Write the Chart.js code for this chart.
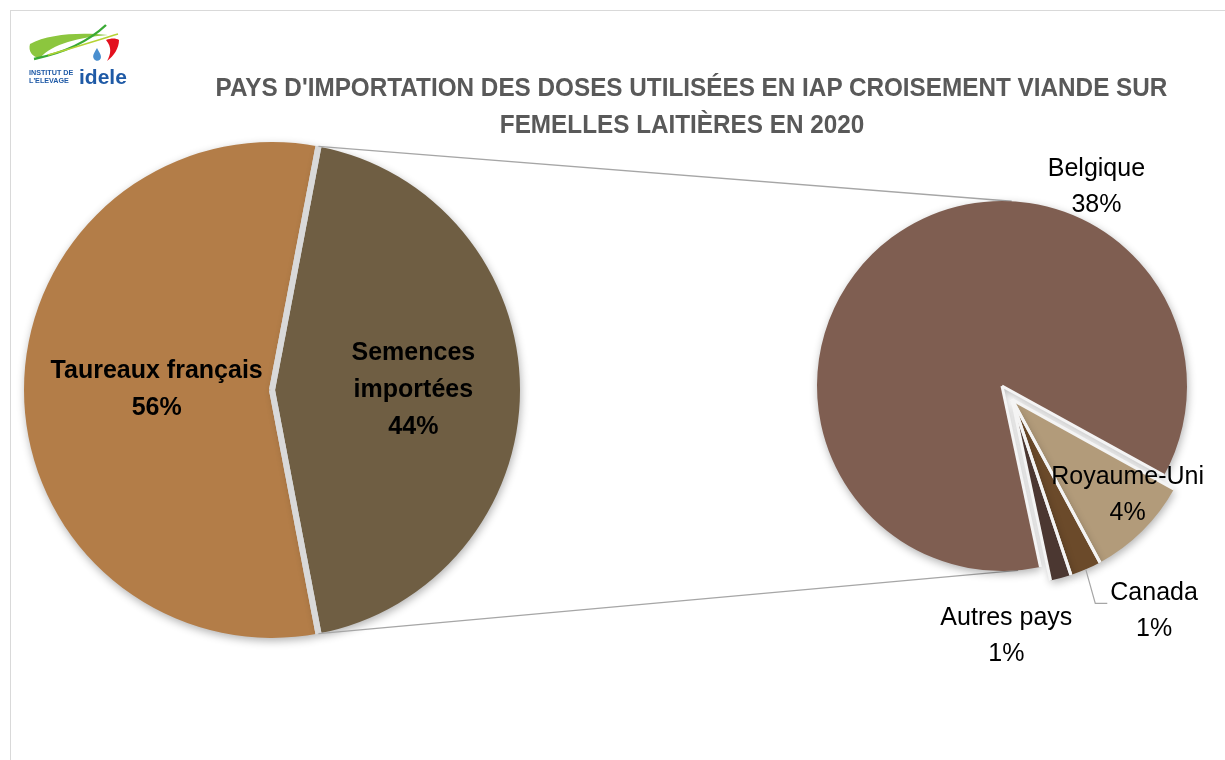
<!DOCTYPE html>
<html lang="fr">
<head>
<meta charset="utf-8">
<title>Pays d'importation des doses</title>
<script src="https://cdn.jsdelivr.net/npm/chart.js@4.4.1/dist/chart.umd.min.js"></script>
<style>
  body { margin:0; width:1225px; height:760px; overflow:hidden; position:relative; background:#fff;
         font-family:"Liberation Sans", Arial, sans-serif; }
  #frame { position:absolute; left:10px; top:10px; width:1300px; height:800px; border:1.5px solid #d9d9d9; }
  canvas { position:absolute; left:0; top:0; }
  #title { position:absolute; left:182px; top:69px; width:1000px; text-align:center;
           font-weight:bold; font-size:26px; line-height:37px; color:#595959; }
  #title span { display:inline-block; white-space:nowrap; transform-origin:center; }
  #logo { position:absolute; left:18px; top:22px; }
</style>
</head>
<body>
<div id="frame"></div>
<canvas id="grand" width="1225" height="760"></canvas>
<canvas id="detail" width="1225" height="760"></canvas>
<div id="title">
  <div><span>PAYS D'IMPORTATION DES DOSES UTILISÉES EN IAP CROISEMENT VIANDE SUR</span></div>
  <div><span>FEMELLES LAITIÈRES EN 2020</span></div>
</div>
<svg id="logo" width="116" height="72" viewBox="0 0 116 72">
  <path d="M12,22 C30,12 62,10 90,13 C62,15 34,22 22,36 C14,35 10,29 12,22 Z" fill="#8cc63e"/>
  <path d="M16,37 C45,31 70,20 88,3" stroke="#3aaa35" stroke-width="2.4" fill="none"/>
  <path d="M30,33 C55,26 80,18 100,12" stroke="#b5d334" stroke-width="1.5" fill="none"/>
  <path d="M79,26 C76,31 74,34 76,37 C78,40 83,39 83,35 C83,32 81,30 79,26 Z" fill="#4a8fcf"/>
  <path d="M88,18 C93,16 98,16 101,18 C101,26 96,34 89,39 C93,32 94,25 88,18 Z" fill="#e3101e"/>
  <text x="11" y="53" font-size="7.2" font-weight="bold" fill="#1f5aa6" font-family="Liberation Sans, Arial">INSTITUT DE</text>
  <text x="11" y="61" font-size="7.2" font-weight="bold" fill="#1f5aa6" font-family="Liberation Sans, Arial">L'ELEVAGE</text>
  <text x="61" y="62" font-size="21" font-weight="bold" fill="#1f5aa6" font-family="Liberation Sans, Arial">idele</text>
</svg>
<script>
// main pie : origin of the doses (% of all doses)
const grandLabels = ['Taureaux français', 'Semences importées'];
const grandValues = [56, 44];
// second pie : detail of the imported doses (% of all doses)
const importLabels = ['Belgique', 'Royaume-Uni', 'Canada', 'Autres pays'];
const importValues = [38.0, 4.0, 1.2, 0.8];

const grandColors = ['#b37d48', '#6f5e43'];
const importColors = ['#7f5e51', '#b29b7a', '#6b4a2a', '#4b3731'];

const rad = d => (d - 90) * Math.PI / 180;   // degrees clockwise from 12 o'clock -> canvas angle

function wrapText(ctx, text, maxW) {
  const words = text.split(' ');
  const lines = [];
  let cur = '';
  words.forEach(w => {
    const t = cur ? cur + ' ' + w : w;
    if (cur && ctx.measureText(t).width > maxW) { lines.push(cur); cur = w; } else cur = t;
  });
  lines.push(cur);
  return lines;
}

const shadowPlugin = {
  id: 'pieShadow',
  beforeDatasetsDraw(chart) {
    const ctx = chart.ctx;
    ctx.save();
    ctx.shadowColor = 'rgba(0,0,0,0.30)';
    ctx.shadowBlur = 9;
    ctx.shadowOffsetX = 1;
    ctx.shadowOffsetY = 3;
  },
  afterDatasetsDraw(chart) { chart.ctx.restore(); }
};

// separators drawn along the slice edges only (no ring round the pie)
const gapPlugin = {
  id: 'sliceGaps',
  afterDatasetsDraw(chart, args, o) {
    if (!o.width) return;
    const ctx = chart.ctx;
    ctx.save();
    ctx.strokeStyle = o.color;
    ctx.lineWidth = o.width;
    chart.getDatasetMeta(0).data.forEach(arc => {
      [arc.startAngle, arc.endAngle].forEach(ang => {
        ctx.beginPath();
        ctx.moveTo(arc.x, arc.y);
        ctx.lineTo(arc.x + Math.cos(ang) * arc.outerRadius, arc.y + Math.sin(ang) * arc.outerRadius);
        ctx.stroke();
      });
    });
    ctx.restore();
  }
};

// pull the small slices out together, like an exploded group
const explodePlugin = {
  id: 'explodeGroup',
  afterDatasetsUpdate(chart, args, o) {
    if (o.from == null) return;
    const arcs = chart.getDatasetMeta(0).data.slice(o.from);
    const mid = (arcs[0].startAngle + arcs[arcs.length - 1].endAngle) / 2;
    arcs.forEach(a => { a.x += Math.cos(mid) * o.distance; a.y += Math.sin(mid) * o.distance; });
  }
};

const labelPlugin = {
  id: 'sliceLabels',
  afterDatasetsDraw(chart, args, o) {
    const ctx = chart.ctx;
    const meta = chart.getDatasetMeta(0);
    const a = chart.chartArea;
    const cx0 = (a.left + a.right) / 2, cy0 = (a.top + a.bottom) / 2;
    const R = meta.controller.outerRadius;
    const labels = chart.data.labels;
    const values = chart.data.datasets[0].data;
    ctx.save();
    ctx.font = o.font;
    ctx.fillStyle = o.color;
    ctx.textAlign = 'center';
    ctx.textBaseline = 'middle';
    meta.data.forEach((arc, i) => {
      const p = o.place[i];
      const ang = p.angle == null ? (arc.startAngle + arc.endAngle) / 2 : rad(p.angle);
      const x = cx0 + Math.cos(ang) * R * p.dist;
      const y = cy0 + Math.sin(ang) * R * p.dist;
      const lines = wrapText(ctx, labels[i], p.wrap || 1000).concat([Math.round(values[i]) + '%']);
      const y0 = y - (lines.length - 1) * o.lineHeight / 2;
      lines.forEach((t, k) => ctx.fillText(t, x, y0 + k * o.lineHeight));
      if (p.leader) {
        const m = (arc.startAngle + arc.endAngle) / 2;
        const sx = arc.x + Math.cos(m) * arc.outerRadius, sy = arc.y + Math.sin(m) * arc.outerRadius;
        const lx = x - ctx.measureText(lines[0]).width / 2 - 3, ly = y0 + 10;
        ctx.save();
        ctx.strokeStyle = '#a6a6a6';
        ctx.lineWidth = 1.2;
        ctx.beginPath();
        ctx.moveTo(sx, sy);
        ctx.lineTo(lx - 12, ly);
        ctx.lineTo(lx, ly);
        ctx.stroke();
        ctx.restore();
      }
    });
    ctx.restore();
  }
};

// grey lines joining the imported slice of the main pie to the second pie
const connectorPlugin = {
  id: 'connectors',
  beforeDraw(chart, args, o) {
    if (!o.enabled) return;
    const src = grandChart.getDatasetMeta(0).data[o.sourceIndex];
    const a = chart.chartArea;
    const cx = (a.left + a.right) / 2, cy = (a.top + a.bottom) / 2;
    const R = chart.getDatasetMeta(0).controller.outerRadius;
    const from = [src.startAngle, src.endAngle];
    const ctx = chart.ctx;
    ctx.save();
    ctx.strokeStyle = '#a6a6a6';
    ctx.lineWidth = 1.3;
    from.forEach((ang, k) => {
      const t = rad(o.targetAngles[k]);
      ctx.beginPath();
      ctx.moveTo(src.x + Math.cos(ang) * src.outerRadius, src.y + Math.sin(ang) * src.outerRadius);
      ctx.lineTo(cx + Math.cos(t) * R, cy + Math.sin(t) * R);
      ctx.stroke();
    });
    ctx.restore();
  }
};

const grandTotal = grandValues.reduce((s, v) => s + v, 0);
// turn the main pie so the imported slice faces the second pie
const grandRotation = 90 - 360 * (grandValues[0] + grandValues[1] / 2) / grandTotal + 360;

const grandChart = new Chart(document.getElementById('grand'), {
  type: 'pie',
  data: {
    labels: grandLabels,
    datasets: [{ data: grandValues, backgroundColor: grandColors, borderWidth: 0 }]
  },
  options: {
    responsive: false,
    animation: false,
    events: [],
    radius: 248,
    rotation: grandRotation,
    layout: { padding: { left: 0, right: 681, top: 140, bottom: 120 } },
    plugins: {
      legend: { display: false },
      tooltip: { enabled: false },
      sliceGaps: { color: '#d9d9d9', width: 6 },
      sliceLabels: {
        font: 'bold 25px "Liberation Sans", Arial, sans-serif',
        color: '#000',
        lineHeight: 37,
        place: [{ dist: 0.465 }, { dist: 0.57, wrap: 140 }]
      }
    }
  },
  plugins: [shadowPlugin, gapPlugin, labelPlugin]
});

const detailChart = new Chart(document.getElementById('detail'), {
  type: 'pie',
  data: {
    labels: importLabels,
    datasets: [{ data: importValues, backgroundColor: importColors, borderWidth: 0 }]
  },
  options: {
    responsive: false,
    animation: false,
    events: [],
    radius: 185,
    rotation: 168,
    layout: { padding: { left: 812, right: 33, top: 196, bottom: 184 } },
    plugins: {
      legend: { display: false },
      tooltip: { enabled: false },
      explodeGroup: { from: 1, distance: 17 },
      sliceGaps: { color: '#f4f4f4', width: 3 },
      connectors: { enabled: true, sourceIndex: 1, targetAngles: [3, 175] },
      sliceLabels: {
        font: '25px "Liberation Sans", Arial, sans-serif',
        color: '#000',
        lineHeight: 36,
        place: [
          { angle: 25.4, dist: 1.19 },
          { angle: 131, dist: 0.9 },
          { angle: 146, dist: 1.47, leader: true },
          { angle: 179, dist: 1.35 }
        ]
      }
    }
  },
  plugins: [connectorPlugin, explodePlugin, shadowPlugin, gapPlugin, labelPlugin]
});

// title : squeeze the lines to the width of the original (narrow) font
const spans = document.querySelectorAll('#title span');
const s = 952 / spans[0].offsetWidth;
spans.forEach(sp => { sp.style.transform = 'scaleX(' + s + ')'; });
</script>
</body>
</html>
